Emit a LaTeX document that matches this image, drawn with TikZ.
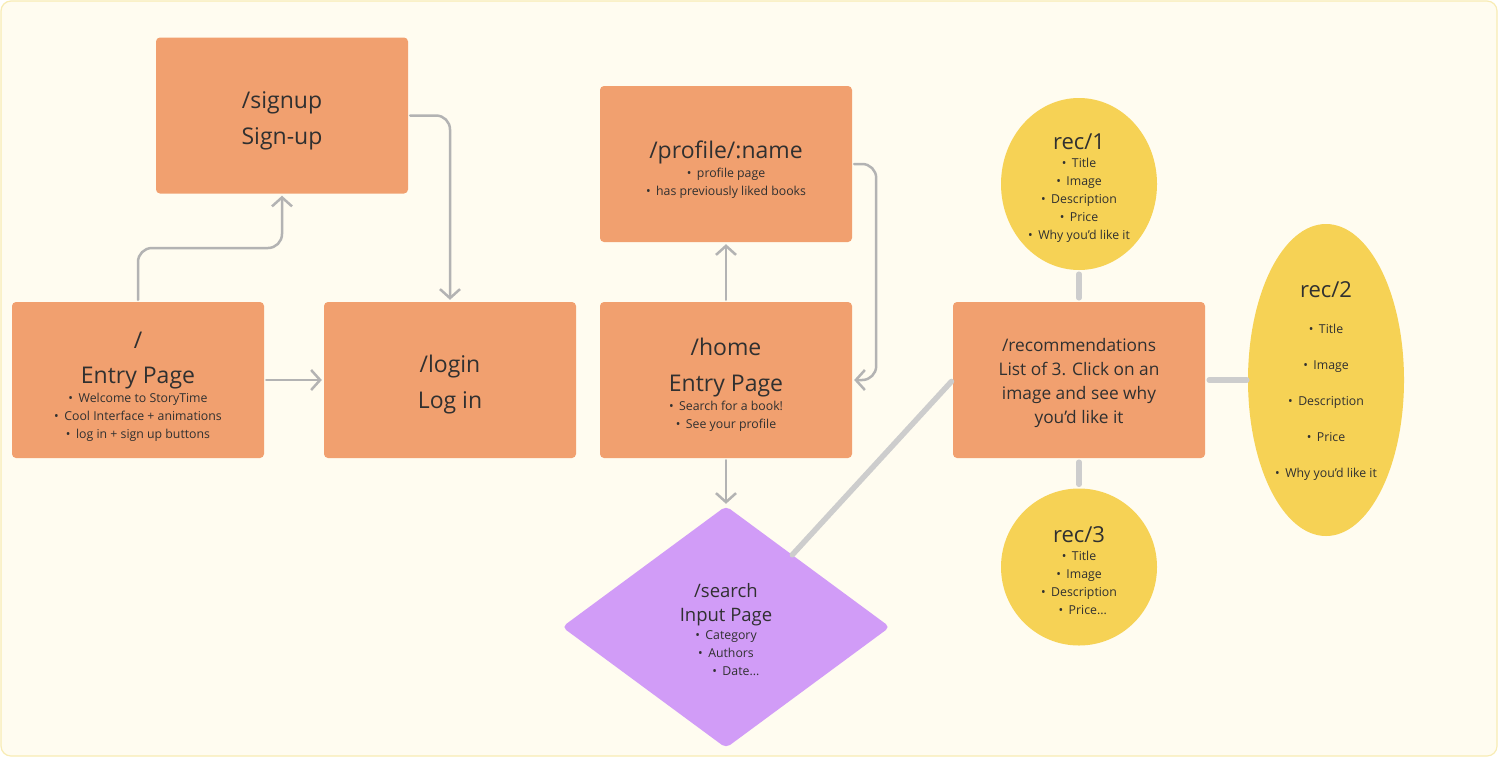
\documentclass[tikz,border=0pt]{standalone}
\usepackage{fontspec}
\usepackage{graphicx}
\setmainfont{Open Sans}
\usetikzlibrary{shapes.geometric,arrows.meta}
\definecolor{cream}{HTML}{FFFCF0}
\definecolor{framecol}{HTML}{F8ECB4}
\definecolor{pageorange}{HTML}{F1A06F}
\definecolor{searchpurple}{HTML}{D19CF7}
\definecolor{recyellow}{HTML}{F6D255}
\definecolor{ink}{HTML}{303030}
\definecolor{arrowgray}{HTML}{B3B3B3}
\definecolor{linkgray}{HTML}{CDCDCD}
\newcommand{\nodefont}{\fontsize{12.3}{0}\selectfont\lineskiplimit=-\maxdimen\lineskip=0pt}
\newcommand{\ttl}{\fontsize{23}{0}\selectfont}
\newcommand{\rtl}{\fontsize{22}{0}\selectfont}
\newcommand{\mdl}{\fontsize{17.3}{0}\selectfont}
\newcommand{\srch}{\fontsize{18.5}{0}\selectfont}
\newcommand{\lift}[1]{\rule{0pt}{#1}}
\newcommand{\bul}{•\hspace{0.45em}}
\begin{document}
\begin{tikzpicture}[x=1pt, y=-1pt,
  every node/.style = {text=ink, align=center, inner sep=0pt, font=\nodefont},
  page/.style = {rectangle, rounded corners=4pt, fill=pageorange,
    minimum width=252pt, minimum height=156pt},
  search/.style = {diamond, rounded corners=5pt, fill=searchpurple,
    minimum width=328pt, minimum height=242pt},
  rec/.style = {ellipse, fill=recyellow, minimum width=156pt},
  arr/.style = {draw=arrowgray, line width=2.5pt, line cap=round,
    rounded corners=14pt, shorten <=2pt, shorten >=2pt,
    -{Straight Barb[length=9pt,width=20pt]}},
  link/.style = {draw=linkgray, line width=5.5pt, line cap=round,
    shorten <=4pt, shorten >=4pt}
  ]
  \fill[white] (0,0) rectangle (1498,764);
  \useasboundingbox (0,0) rectangle (1498,764);
  \draw[framecol, fill=cream, line width=1.2pt, rounded corners=10pt]
    (1,1) rectangle (1497,756);

  % pages
  \node[page] (signup) at (282,115.5) {\lift{28pt}\ttl /signup\\[36pt]\ttl Sign-up};
  \node[page] (entry) at (138,380) {\lift{29pt}\ttl /\\[35pt]\ttl Entry Page\\[19pt]
    \bul Welcome to StoryTime\\[18pt]\bul Cool Interface + animations\\[18pt]
    \bul log in + sign up buttons};
  \node[page] (login) at (450,380) {\lift{26pt}\ttl /login\\[36pt]\ttl Log in};
  \node[page] (profile) at (726,164) {\lift{29pt}\ttl /profile/:name\\[19pt]
    \bul profile page\\[18pt]\bul has previously liked books};
  \node[page] (home) at (726,380) {\lift{27pt}\ttl /home\\[36pt]\ttl Entry Page\\[19pt]
    \bul Search for a book!\\[18pt]\bul See your profile};
  \node[page] (reco) at (1079,380) {\lift{19pt}\mdl /recommendations\\[24pt]
    \mdl List of 3. Click on an\\[24pt]\mdl image and see why\\[24pt]
    \mdl you’d like it};
  \node[search] (search) at (726,627) {\lift{20pt}\srch /search\\[24pt]\srch Input Page\\[18pt]
    \bul Category\\[18pt]\bul Authors\\[18pt]\hspace{1.6em}\bul Date...};

  % recommendations
  \node[rec, minimum height=172pt] (rec1) at (1079,184) {\lift{23pt}\rtl rec/1\\[18pt]
    \bul Title\\[18pt]\bul Image\\[18pt]\bul Description\\[18pt]
    \bul Price\\[18pt]\bul Why you’d like it};
  \node[rec, minimum height=312pt] (rec2) at (1326,380) {\lift{18pt}\rtl rec/2\\[36pt]
    \bul Title\\[36pt]\bul Image\\[36pt]\bul Description\\[36pt]
    \bul Price\\[36pt]\bul Why you’d like it};
  \node[rec, minimum height=157pt] (rec3) at (1079,567) {\lift{23pt}\rtl rec/3\\[18pt]
    \bul Title\\[18pt]\bul Image\\[18pt]\bul Description\\[18pt]
    \hspace{0.6em}\bul Price...};

  % arrows
  \draw[arr] (entry.north) -- (entry.north |- 0,248) -| (signup.south);
  \draw[arr] (signup.east) -| (login.north);
  \draw[arr] (entry.east) -- (login.west);
  \draw[arr] (home.north) -- (profile.south);
  \draw[arr] (profile.east) -- ++(24,0) |- (home.east);
  \draw[arr] (home.south) -- (search.north);

  % links
  \draw[link, shorten >=0pt, shorten <=2pt] (reco.west) -- (search);
  \draw[link] (reco.north) -- (rec1.south);
  \draw[link] (reco.south) -- (rec3.north);
  \draw[link, shorten >=1pt] (reco.east) -- (rec2.west);
\end{tikzpicture}
\end{document}
